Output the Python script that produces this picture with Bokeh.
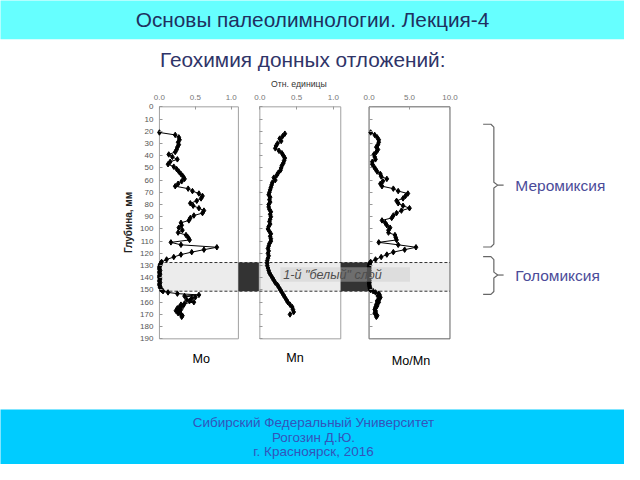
from bokeh.plotting import figure
from bokeh.models import Range1d, LinearAxis, FixedTicker, PrintfTickFormatter
from bokeh.embed import file_html
from bokeh.resources import INLINE
from bokeh.core.properties import value

# ---------------- data ----------------
# depth (mm) for Mo and Mo/Mn profiles
depth_mo = [21, 23, 25, 27, 29, 31, 33, 35, 37, 39,
            41, 43, 45, 47, 49, 51, 53, 55, 57, 59,
            61, 63, 65, 67, 69, 71, 73, 75, 77, 79,
            81, 83, 85, 87, 89, 91, 93, 95, 97, 99,
            101, 103, 105, 107, 109, 111, 113, 115, 117, 119,
            121, 123, 125, 127,
            128, 129, 130, 131, 132, 133, 134, 135, 136, 137,
            138, 139, 140, 141, 142, 143, 144, 145, 146, 147,
            148, 149, 150,
            151, 152, 153, 154, 155, 156, 157, 158, 159, 160,
            161, 162, 163, 164, 165, 166, 167, 168, 169, 170,
            171, 172]

mo_values = [0.00, 0.22, 0.27, 0.28, 0.26, 0.27, 0.25, 0.24, 0.22, 0.13,
             0.18, 0.25, 0.15, 0.12, 0.20, 0.24, 0.27, 0.30, 0.33, 0.35,
             0.31, 0.26, 0.22, 0.40, 0.46, 0.55, 0.60, 0.58, 0.52, 0.43,
             0.47, 0.55, 0.62, 0.60, 0.48, 0.43, 0.41, 0.30, 0.31, 0.27,
             0.32, 0.26, 0.37, 0.40, 0.42, 0.16, 0.30, 0.80, 0.62, 0.45,
             0.30, 0.20, 0.10, 0.03,
             0.02, 0.01, 0.01, 0.00, 0.00, 0.00, 0.01, 0.00, 0.00, 0.01,
             0.00, 0.00, 0.00, 0.01, 0.00, 0.00, 0.01, 0.00, 0.00, 0.01,
             0.01, 0.02, 0.03,
             0.05, 0.12, 0.25, 0.55, 0.35, 0.50, 0.45, 0.38, 0.42, 0.48,
             0.35, 0.30, 0.33, 0.28, 0.25, 0.30, 0.23, 0.27, 0.26, 0.30,
             0.32, 0.31]

ratio_values = [0.2, 0.7, 1.0, 1.2, 1.2, 1.1, 0.9, 1.1, 0.9, 0.6,
                0.7, 0.8, 0.4, 0.4, 0.6, 0.8, 1.0, 1.4, 1.5, 2.2,
                1.7, 1.4, 1.6, 3.0, 3.6, 4.8, 4.5, 4.2, 3.4, 3.6,
                4.2, 5.0, 4.0, 3.4, 3.0, 2.8, 1.6, 2.0, 2.2, 2.6,
                2.4, 2.4, 3.2, 3.3, 3.4, 1.2, 3.6, 5.8, 4.4, 3.0,
                2.2, 1.5, 0.8, 0.2,
                0.10, 0.05, 0.05, 0.00, 0.05, 0.00, 0.05, 0.00, 0.00, 0.05,
                0.00, 0.05, 0.00, 0.00, 0.05, 0.00, 0.05, 0.00, 0.05, 0.05,
                0.10, 0.10, 0.20,
                0.5, 0.8, 1.2, 1.3, 1.1, 1.4, 1.3, 1.2, 1.0, 1.2,
                1.0, 0.9, 1.0, 0.8, 0.8, 0.7, 0.8, 0.8, 0.7, 0.9,
                1.0, 0.9]

# depth (mm) for Mn profile
depth_mn = [22, 24, 26, 28, 30, 32, 34, 36, 38, 40,
            42, 44, 46, 48, 50, 52, 54, 56, 58, 60,
            62, 64, 66, 68, 70, 72, 74, 76, 78, 80,
            82, 84, 86, 88, 90, 92, 94, 96, 98, 100,
            102, 104, 106, 108, 110, 112, 114, 116, 118, 120,
            122, 124, 126, 128, 130, 132, 134, 136, 138, 140,
            142, 144, 146, 148, 150, 152, 154, 156, 158, 160,
            162, 164, 166, 168, 170]

mn_values = [0.34, 0.31, 0.27, 0.29, 0.24, 0.22, 0.21, 0.26, 0.30, 0.32,
             0.34, 0.33, 0.32, 0.30, 0.29, 0.28, 0.25, 0.23, 0.19, 0.21,
             0.17, 0.16, 0.15, 0.14, 0.13, 0.12, 0.14, 0.13, 0.14, 0.12,
             0.12, 0.13, 0.15, 0.14, 0.15, 0.14, 0.13, 0.14, 0.12, 0.11,
             0.13, 0.15, 0.14, 0.15, 0.15, 0.13, 0.12, 0.11, 0.12, 0.11,
             0.12, 0.11, 0.10, 0.10, 0.10, 0.11, 0.12, 0.13, 0.15, 0.17,
             0.19, 0.21, 0.24, 0.26, 0.28, 0.30, 0.32, 0.34, 0.36, 0.38,
             0.41, 0.44, 0.45, 0.46, 0.41]

DEPTH_TICKS = [0, 10, 20, 30, 40, 50, 60, 70, 80, 90,
               100, 110, 120, 130, 140, 150, 160, 170, 180, 190]
MO_TICKS = [0.0, 0.5, 1.0]
MN_TICKS = [0.0, 0.5, 1.0]
RATIO_TICKS = [0.0, 5.0, 10.0]
LAYER_TOP, LAYER_BOTTOM = 127.5, 151.0   # first "white" layer, mm

TITLE = "Основы палеолимнологии. Лекция-4"
SUBTITLE = "Геохимия донных отложений:"
UNITS = "Отн. единицы"
DEPTH_LABEL = "Глубина, мм"
LAYER_LABEL = "1-й \"белый\" слой"
PANEL_NAMES = ["Mo", "Mn", "Mo/Mn"]
REGIMES = ["Меромиксия", "Голомиксия"]
FOOTER = ["Сибирский Федеральный Университет", "Рогозин Д.Ю.", "г. Красноярск, 2016"]

assert len(depth_mo) == len(mo_values) == len(ratio_values)
assert len(depth_mn) == len(mn_values)

# ---------------- layout ----------------
W, H = 624, 464
SX, SY = W / 640.0, H / 480.0   # slide pixel -> canvas pixel
FONT = value("Liberation Sans")


def cx(x):
    return x * SX


def cy(y):
    return y * SY


def fs(px):
    return "%.1fpx" % (px * SY)


p = figure(width=W, height=H, x_range=Range1d(0, W), y_range=Range1d(H, 0),
           x_axis_location=None, y_axis_location=None, min_border=0,
           toolbar_location=None, output_backend="svg")
p.outline_line_color = None
p.grid.visible = False
p.background_fill_color = "white"

# depth range: 0 mm at slide y=110, 190 mm at slide y=350
d0, d190 = cy(110), cy(350)
ds = 190.0 / (d190 - d0)
p.extra_y_ranges = {"depth": Range1d(start=(H - d0) * ds, end=(0 - d0) * ds)}


def xrange_for(px_l, px_r, vmax):
    s = vmax / (px_r - px_l)
    return Range1d(start=-px_l * s, end=(W - px_l) * s)


panels = [
    ("mo", 163, 244, 1.1, MO_TICKS, depth_mo, mo_values, "#a0a0a0"),
    ("mn", 266, 349, 1.1, MN_TICKS, depth_mn, mn_values, "#a0a0a0"),
    ("ratio", 378, 461, 10.0, RATIO_TICKS, depth_mo, ratio_values, "#606060"),
]
for key, l, r, vmax, _, _, _, _ in panels:
    p.extra_x_ranges[key] = xrange_for(cx(l), cx(r), vmax)

# header / footer bands
p.quad(left=[-5], right=[W + 5], top=[-5], bottom=[cy(40)], fill_color="#66FFFF", line_color=None)
p.quad(left=[-5], right=[W + 5], top=[cy(423)], bottom=[H + 5], fill_color="#00CCFF", line_color=None)

# panel backgrounds
for key, l, r, vmax, ticks, dep, vals, frame_col in panels:
    p.quad(left=[0], right=[vmax], top=[0], bottom=[190], x_range_name=key, y_range_name="depth",
           fill_color="white", line_color=None)

# light "white layer" band across panels
p.quad(left=[cx(163)], right=[cx(461)], top=[LAYER_TOP], bottom=[LAYER_BOTTOM], y_range_name="depth",
       fill_color="#ececec", line_color=None)

# panel frames
for key, l, r, vmax, ticks, dep, vals, frame_col in panels:
    p.quad(left=[0], right=[vmax], top=[0], bottom=[190], x_range_name=key, y_range_name="depth",
           fill_color=None, line_color=frame_col, line_width=1)

# dark bands between panels
p.quad(left=[cx(244), cx(349)], right=[cx(265), cx(378)], top=[LAYER_TOP] * 2, bottom=[LAYER_BOTTOM] * 2,
       y_range_name="depth", fill_color="#333333", line_color=None)

# dashed boundaries of the layer
p.segment(x0=[cx(163), cx(163)], x1=[cx(461), cx(461)], y0=[LAYER_TOP, LAYER_BOTTOM],
          y1=[LAYER_TOP, LAYER_BOTTOM], y_range_name="depth", line_color="#333333",
          line_width=1, line_dash="3 2")

# axes
for i, (key, l, r, vmax, ticks, dep, vals, frame_col) in enumerate(panels):
    top = LinearAxis(x_range_name=key, y_range_name="depth", fixed_location=0,
                     ticker=FixedTicker(ticks=ticks), formatter=PrintfTickFormatter(format="%.1f"),
                     bounds=(0, vmax), axis_line_color=None,
                     major_tick_in=3, major_tick_out=0, major_tick_line_color="#999999",
                     minor_tick_line_color=None, major_label_standoff=7,
                     major_label_text_font_size="8px", major_label_text_color="#777777",
                     major_label_text_font="Liberation Sans")
    p.add_layout(top, "above")
    left = LinearAxis(x_range_name=key, y_range_name="depth", fixed_location=0,
                      ticker=FixedTicker(ticks=DEPTH_TICKS), bounds=(0, 190), axis_line_color=None,
                      major_tick_in=3, major_tick_out=0, major_tick_line_color="#999999",
                      minor_tick_line_color=None, major_label_standoff=6,
                      major_label_text_font_size="8px", major_label_text_color="#555555",
                      major_label_text_font="Liberation Sans")
    if i == 0:
        left.axis_label = DEPTH_LABEL
        left.axis_label_text_font = "Liberation Sans"
        left.axis_label_text_font_size = "10px"
        left.axis_label_text_font_style = "bold"
        left.axis_label_text_color = "#222222"
        left.axis_label_standoff = 3
    else:
        left.major_label_overrides = {t: "" for t in DEPTH_TICKS}
    p.add_layout(left, "left")

# profiles
for key, l, r, vmax, ticks, dep, vals, frame_col in panels:
    p.line(x=vals, y=dep, x_range_name=key, y_range_name="depth", line_color="black", line_width=1)
    p.scatter(x=vals, y=dep, x_range_name=key, y_range_name="depth", marker="diamond",
              size=5.5, fill_color="black", line_color="black")

# label box for the white layer
p.quad(left=[cx(287)], right=[cx(420)], top=[cy(276)], bottom=[cy(291)],
       fill_color="#c8c8c8", fill_alpha=0.4, line_color=None)
p.text(x=[cx(290)], y=[cy(284)], text=[LAYER_LABEL], text_font=FONT, text_font_size=fs(13),
       text_font_style="italic", text_color="#4d4d4d", text_align="left", text_baseline="middle")

# titles
p.text(x=[cx(320)], y=[cy(20)], text=[TITLE], text_font=FONT, text_font_size=fs(21.5),
       text_color="#203060", text_align="center", text_baseline="middle")
p.text(x=[cx(310)], y=[cy(61)], text=[SUBTITLE], text_font=FONT, text_font_size=fs(21.5),
       text_color="#2f3468", text_align="center", text_baseline="middle")
p.text(x=[cx(306)], y=[cy(86)], text=[UNITS], text_font=FONT, text_font_size=fs(9),
       text_color="#333333", text_align="center", text_baseline="middle")

# panel names
p.text(x=[cx(206), cx(302), cx(421)], y=[cy(371), cy(370), cy(373)], text=PANEL_NAMES,
       text_font=FONT, text_font_size=fs(13), text_color="black",
       text_align="center", text_baseline="middle")


# braces
def brace(top_y, mid_y, bot_y):
    xs = [cx(495), cx(503), cx(506), cx(506), cx(510), cx(506), cx(506), cx(503), cx(495)]
    ys = [cy(top_y), cy(top_y), cy(top_y + 3), cy(mid_y - 3), cy(mid_y), cy(mid_y + 3),
          cy(bot_y - 3), cy(bot_y), cy(bot_y)]
    return xs, ys


for (t, m, b) in [(128, 191, 255), (265, 284, 304)]:
    xs, ys = brace(t, m, b)
    p.line(x=xs, y=ys, line_color="#666666", line_width=1.2)
    p.segment(x0=[cx(510)], x1=[cx(516)], y0=[cy(m)], y1=[cy(m)], line_color="#666666", line_width=1.2)

p.text(x=[cx(528), cx(528)], y=[cy(191), cy(284)], text=REGIMES, text_font=FONT,
       text_font_size=fs(16), text_color="#4b4b99", text_align="left", text_baseline="middle")

# footer
p.text(x=[cx(321)] * 3, y=[cy(437), cy(452), cy(467)], text=FOOTER, text_font=FONT,
       text_font_size=fs(14), text_color="#3355bb", text_align="center", text_baseline="middle")

open("out.html", "w").write(file_html(p, INLINE))
